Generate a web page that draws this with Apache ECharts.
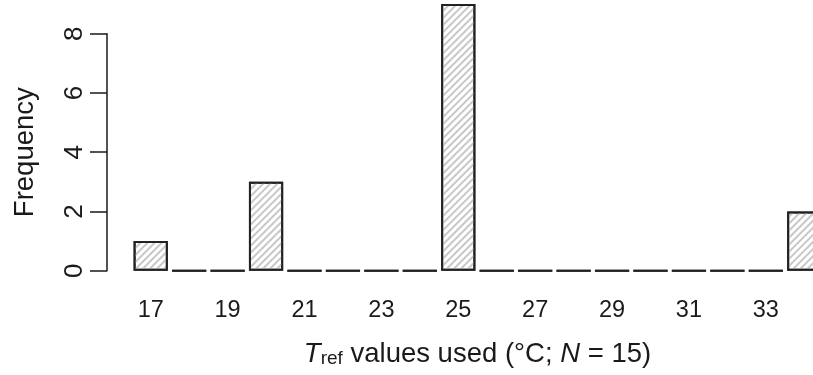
<!DOCTYPE html>
<html>
<head>
<meta charset="utf-8">
<script src="https://cdn.jsdelivr.net/npm/echarts@6/dist/echarts.min.js"></script>
<style>
  html, body { margin: 0; padding: 0; background: #fff; }
  #tRefHist { width: 813px; height: 375px; }
</style>
</head>
<body>
<div id="tRefHist"></div>
<script>
// 温度取值 (°C)
const categories = ['17', '18', '19', '20', '21', '22', '23', '24', '25',
  '26', '27', '28', '29', '30', '31', '32', '33', '34'];
// 频数
const frequency = [1, 0, 0, 3, 0, 0, 0, 0, 9, 0, 0, 0, 0, 0, 0, 0, 0, 2];
// y 轴刻度
const yMin = 0;
const yMax = 8;
const yStep = 2;

const FONT = 'Liberation Sans, Arial, Helvetica, sans-serif';
const INK = '#1a1a1a';

let chart = echarts.init(document.querySelector('#tRefHist'), null, { renderer: 'canvas' });

let options = {
  animation: false,
  backgroundColor: '#fff',
  grid: {
    left: 131.5,
    width: 692, // 超出画布, 最后一根柱子被裁掉
    top: 33.7,
    bottom: 104.3,
    containLabel: false,
    outerBoundsMode: 'none',
  },
  xAxis: {
    type: 'category',
    data: categories,
    axisLine: { show: false },
    axisTick: { show: false },
    axisLabel: {
      interval: 1,
      margin: 28,
      fontSize: 23.5,
      fontFamily: FONT,
      color: INK,
    },
    name: '{i|T}{sub|ref} values used (°C; {i|N} = 15)',
    nameLocation: 'middle',
    nameGap: 70,
    nameTextStyle: {
      fontSize: 27.5,
      fontFamily: FONT,
      color: INK,
      rich: {
        i: { fontSize: 27.5, fontStyle: 'italic', fontFamily: FONT, color: INK },
        sub: { fontSize: 19, fontFamily: FONT, color: INK, verticalAlign: 'bottom' },
      },
    },
  },
  yAxis: {
    type: 'value',
    min: yMin,
    max: yMax,
    interval: yStep,
    offset: 24.5,
    splitLine: { show: false },
    axisLine: { show: true, lineStyle: { color: INK, width: 1.5 } },
    axisTick: { show: true, length: 17, lineStyle: { color: INK, width: 1.5 } },
    axisLabel: {
      rotate: 90,
      margin: 19,
      fontSize: 26,
      fontFamily: FONT,
      color: INK,
    },
    name: 'Frequency',
    nameLocation: 'middle',
    nameRotate: 90,
    nameGap: 68,
    nameTextStyle: {
      fontSize: 27.5,
      fontFamily: FONT,
      color: INK,
    },
  },
  series: [
    {
      type: 'bar',
      data: frequency,
      clip: false,
      barCategoryGap: '11%',
      itemStyle: {
        color: '#fff',
        borderColor: '#222',
        borderWidth: 2,
        decal: {
          symbol: 'rect',
          symbolSize: 1,
          color: '#c8c8c8',
          dashArrayX: [1, 0],
          dashArrayY: [1.5, 3],
          rotation: -Math.PI / 4,
        },
      },
      emphasis: { disabled: true },
    },
  ],
};

chart.setOption(options);
</script>
</body>
</html>
